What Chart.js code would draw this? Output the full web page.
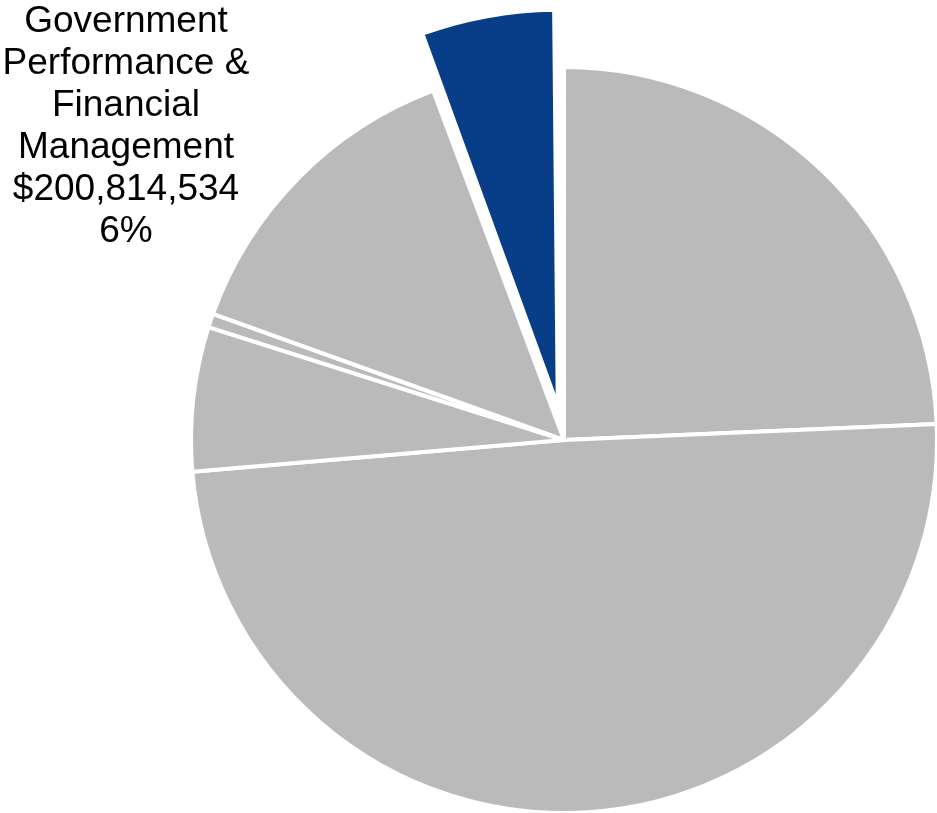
<!DOCTYPE html>
<html lang="en">
<head>
    <meta charset="UTF-8">
    <title>Budget by Program</title>
    <script src="https://cdn.jsdelivr.net/npm/chart.js"></script>
    <style>
        body { margin: 0; background: #fff; }
        #chart { display: block; }
    </style>
</head>
<body>
    <canvas id="chart" width="937" height="813"></canvas>

    <script>
        // slices clockwise from 12 o'clock
        const categories = [
            'Program A',
            'Program B',
            'Program C',
            'Program D',
            'Program E',
            ['Government', 'Performance &', 'Financial', 'Management']
        ];
        const amounts = [856000000, 1737000000, 220000000, 21000000, 486000000, 200814534];
        const sliceColors = ['#bababa', '#bababa', '#bababa', '#bababa', '#bababa', '#073e87'];
        const highlight = 5;

        const total = amounts.reduce((a, b) => a + b, 0);

        // draws the callout text for the highlighted slice
        const calloutLabel = {
            id: 'calloutLabel',
            afterDraw(chart) {
                const ctx = chart.ctx;
                const lines = [].concat(categories[highlight]);
                lines.push('$' + amounts[highlight].toLocaleString('en-US'));
                lines.push(Math.round(amounts[highlight] / total * 100) + '%');
                ctx.save();
                ctx.fillStyle = '#000';
                ctx.font = '37px "Liberation Sans", Arial, sans-serif';
                ctx.textAlign = 'center';
                ctx.textBaseline = 'alphabetic';
                lines.forEach((t, i) => ctx.fillText(t, 126, 32 + i * 42));
                ctx.restore();
            }
        };

        const ctx = document.getElementById('chart').getContext('2d');
        new Chart(ctx, {
            type: 'pie',
            data: {
                labels: categories,
                datasets: [{
                    data: amounts,
                    backgroundColor: sliceColors,
                    borderColor: '#ffffff',
                    borderWidth: 4,
                    // v4 arcs move ~0.41x the offset for a slice this narrow
                    offset: amounts.map((v, i) => i === highlight ? 140 : 0)
                }]
            },
            options: {
                responsive: false,
                animation: false,
                events: [],
                radius: 373,
                layout: { padding: { left: 191, top: 67, right: 0, bottom: 0 } },
                plugins: {
                    legend: { display: false },
                    tooltip: { enabled: false }
                }
            },
            plugins: [calloutLabel]
        });
    </script>
</body>
</html>
